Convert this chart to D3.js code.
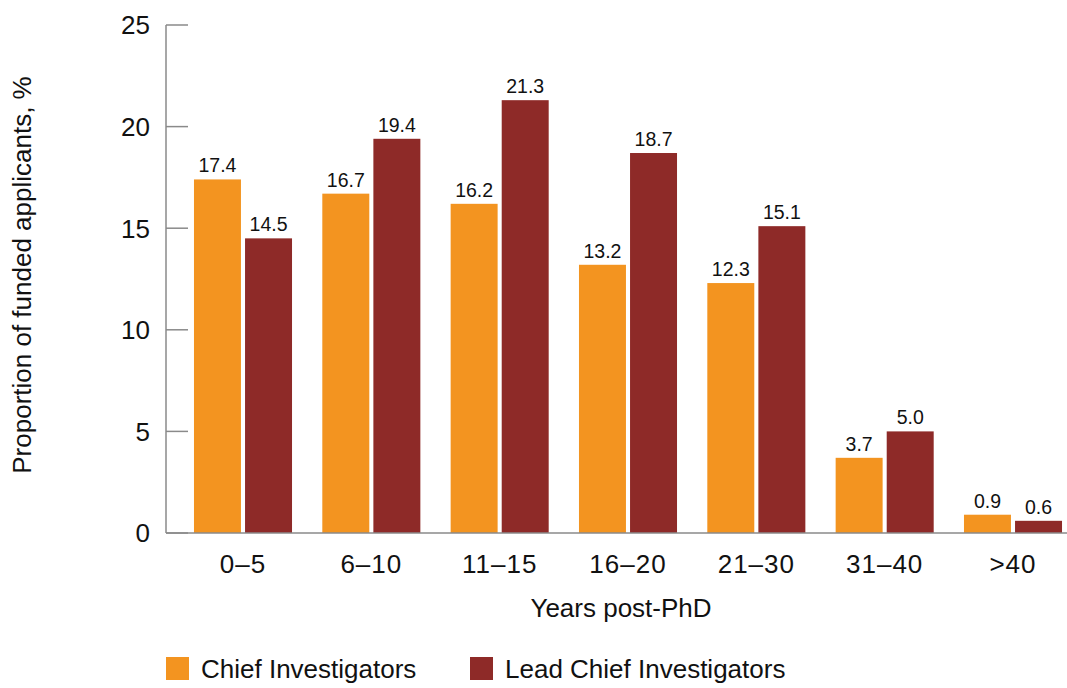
<!DOCTYPE html>
<head>
  <meta charset="utf-8">
  <script src="https://d3js.org/d3.v7.min.js"></script>
  <style>
    body { margin: 0; background: #fff; font-family: "Liberation Sans", Arial, sans-serif; }
    .axis-line { stroke: #8a8a8a; stroke-width: 1.5px; }
    .tick-label { font-size: 26px; fill: #111; }
    .x-label { letter-spacing: 1px; }
    .value-label { font-size: 19.5px; fill: #111; }
    .axis-title { font-size: 26px; fill: #111; }
    .legend text { font-size: 26px; fill: #111; }
  </style>
</head>
<body>
  <script>
    var groups = ["0–5", "6–10", "11–15", "16–20", "21–30", "31–40", ">40"];
    var seriesNames = ["Chief Investigators", "Lead Chief Investigators"];
    var chiefValues = [17.4, 16.7, 16.2, 13.2, 12.3, 3.7, 0.9];
    var leadValues = [14.5, 19.4, 21.3, 18.7, 15.1, 5.0, 0.6];
    var yTicks = [0, 5, 10, 15, 20, 25];
    var colors = ["#f39420", "#8e2a28"];

    var width = 1067, height = 688;
    var plotLeft = 166, plotTop = 25, plotBottom = 533;

    var svg = d3.select("body").append("svg")
        .attr("width", width)
        .attr("height", height);

    var data = groups.map(function(g, i) {
      return { group: g, values: [chiefValues[i], leadValues[i]] };
    });

    var x0 = d3.scaleBand()
        .domain(groups)
        .range([plotLeft, 1090])
        .paddingInner(0.236)
        .paddingOuter(0.218);

    var x1 = d3.scaleBand()
        .domain([0, 1])
        .range([0, x0.bandwidth()])
        .paddingInner(0.08);

    var y = d3.scaleLinear()
        .domain([0, 25])
        .range([plotBottom, plotTop]);

    // bars
    var group = svg.append("g").selectAll("g")
        .data(data)
      .enter().append("g")
        .attr("transform", function(d) { return "translate(" + x0(d.group) + ",0)"; });

    group.selectAll("rect")
        .data(function(d) { return d.values; })
      .enter().append("rect")
        .attr("x", function(d, i) { return x1(i); })
        .attr("y", function(d) { return y(d); })
        .attr("width", x1.bandwidth())
        .attr("height", function(d) { return plotBottom - y(d); })
        .attr("fill", function(d, i) { return colors[i]; });

    group.selectAll("text")
        .data(function(d) { return d.values; })
      .enter().append("text")
        .attr("class", "value-label")
        .attr("x", function(d, i) { return x1(i) + x1.bandwidth() / 2; })
        .attr("y", function(d) { return y(d) - 7; })
        .attr("text-anchor", "middle")
        .text(function(d) { return d.toFixed(1); });

    // y axis
    svg.append("line")
        .attr("class", "axis-line")
        .attr("x1", plotLeft).attr("x2", plotLeft)
        .attr("y1", plotTop).attr("y2", plotBottom);

    var yTick = svg.append("g").selectAll("g")
        .data(yTicks)
      .enter().append("g")
        .attr("transform", function(d) { return "translate(0," + y(d) + ")"; });

    yTick.append("line")
        .attr("class", "axis-line")
        .attr("x1", plotLeft).attr("x2", plotLeft + 22);

    yTick.append("text")
        .attr("class", "tick-label")
        .attr("x", plotLeft - 16)
        .attr("dy", "0.36em")
        .attr("text-anchor", "end")
        .text(function(d) { return d; });

    // x axis
    svg.append("line")
        .attr("class", "axis-line")
        .attr("x1", plotLeft).attr("x2", width)
        .attr("y1", plotBottom).attr("y2", plotBottom);

    svg.append("g").selectAll("text")
        .data(groups)
      .enter().append("text")
        .attr("class", "tick-label x-label")
        .attr("x", function(d) { return x0(d) + x0.bandwidth() / 2; })
        .attr("y", 573)
        .attr("text-anchor", "middle")
        .text(function(d) { return d; });

    svg.append("text")
        .attr("class", "axis-title")
        .attr("x", 621)
        .attr("y", 617)
        .attr("text-anchor", "middle")
        .text("Years post-PhD");

    svg.append("text")
        .attr("class", "axis-title")
        .attr("transform", "translate(31,275) rotate(-90)")
        .attr("text-anchor", "middle")
        .text("Proportion of funded applicants, %");

    // legend
    var legendX = [166, 470];
    var legend = svg.append("g").attr("class", "legend").selectAll("g")
        .data(seriesNames)
      .enter().append("g")
        .attr("transform", function(d, i) { return "translate(" + legendX[i] + ",657)"; });

    legend.append("rect")
        .attr("width", 23)
        .attr("height", 23)
        .attr("fill", function(d, i) { return colors[i]; });

    legend.append("text")
        .attr("x", 35)
        .attr("y", 21)
        .text(function(d) { return d; });
  </script>
</body>
